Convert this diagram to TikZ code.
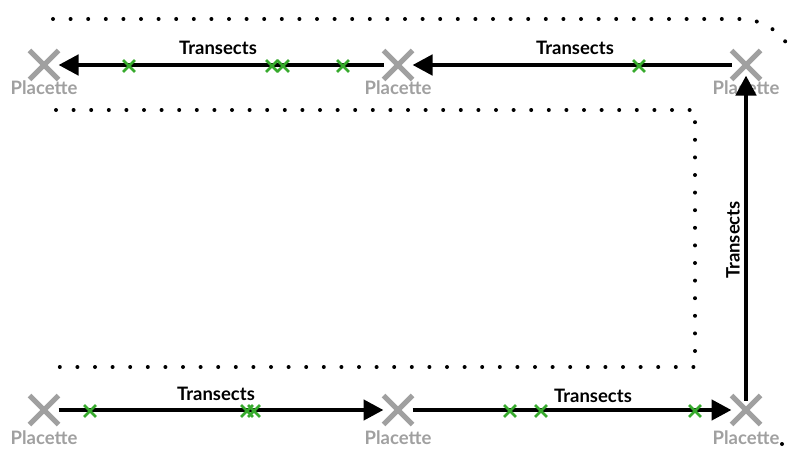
\documentclass[tikz,border=0pt]{standalone}
\usepackage{fontspec}
\setmainfont{Lato}
\usetikzlibrary{arrows.meta,shapes.misc}
\definecolor{plgray}{RGB}{160,160,160}
\definecolor{mkgreen}{RGB}{55,170,45}
\begin{document}
\begin{tikzpicture}[x=1pt,y=-1pt,
  placette/.style={cross out, draw=plgray, line width=5pt, minimum size=21pt,
    inner sep=0pt, outer sep=4pt},
  plabel/.style={text=plgray, font=\fontsize{18.5}{21}\selectfont\bfseries, inner sep=0pt},
  marker/.style={cross out, draw=mkgreen, line width=2.8pt, minimum size=9pt,
    inner sep=0pt},
  transect/.style={line width=4.5pt, -{Triangle[length=20pt,width=20pt]}},
  tlabel/.style={font=\fontsize{18.5}{21}\selectfont\bfseries, inner sep=0pt},
  dotline/.style={line width=4pt, line cap=round, dash pattern=on 0pt off 17.6pt}]

\useasboundingbox (0,0) rectangle (790,452);

% dotted outlines
\draw[dotline, rounded corners=57pt] (53,19) -- (797,19) -- (797,300);
\draw[dotline] (56,110) -- (695,110) -- (695,367) -- (46,367);
\fill (782,444) circle (2pt);

% placettes
\node[placette] (p1) at (44,65) {};
\node[placette] (p2) at (398,65) {};
\node[placette] (p3) at (746,65) {};
\node[placette] (q1) at (44,410) {};
\node[placette] (q2) at (398,410) {};
\node[placette] (q3) at (746,410) {};

\node[plabel] (lp1) at (44,88) {Placette};
\node[plabel] (lp2) at (398,88) {Placette};
\node[plabel] (lp3) at (746,88) {Placette};
\node[plabel] (lq1) at (44,438) {Placette};
\node[plabel] (lq2) at (398,438) {Placette};
\node[plabel] (lq3) at (746,438) {Placette};

% transects
\draw[transect] (p2) -- (p1);
\draw[transect] (p3) -- (p2);
\draw[transect] (q1) -- (q2);
\draw[transect] (q2) -- (q3);
\draw[transect, shorten <=-5pt, shorten >=-4pt] (q3) -- (p3);

\node[tlabel] (t1) at (218,48) {Transects};
\node[tlabel] (t2) at (575,48) {Transects};
\node[tlabel] (t3) at (216,394) {Transects};
\node[tlabel] (t4) at (593,396) {Transects};
\node[tlabel, rotate=90] (t5) at (733,240) {Transects};

% observation points along the transects
\foreach \x [count=\i] in {129,272,283,343,639}
  \node[marker] (mt\i) at (\x,66) {};
\foreach \x [count=\i] in {90,247,254,510,541,695}
  \node[marker] (mb\i) at (\x,411) {};
\end{tikzpicture}
\end{document}
